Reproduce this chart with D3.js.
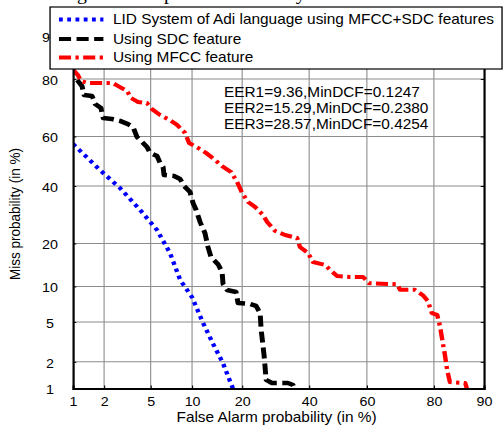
<!DOCTYPE html>
<html>
<head>
<meta charset="utf-8">
<script src="https://cdn.jsdelivr.net/npm/d3@7"></script>
<style>
  html, body { margin: 0; padding: 0; background: #fff; overflow: hidden; }
  svg { display: block; }
  text { font-family: Arial, "Liberation Sans", Helvetica, sans-serif; fill: #000; }
</style>
</head>
<body>
<svg id="chart"></svg>
<script>
// DET curves (probit-scaled axes), values in percent
const xTicks = [1, 2, 5, 10, 20, 40, 60, 80, 90];
const yTicks = [1, 2, 5, 10, 20, 40, 60, 80, 90];

const mfccSdcFA   = [1.0, 1.83, 2.78, 4.11, 5.6, 7.0, 8.3, 10.0, 11.8, 13.6, 15.6, 17.8];
const mfccSdcMiss = [57.0, 46.4, 39.2, 30.9, 24.1, 17.4, 11.2, 8.2, 4.9, 3.1, 1.95, 1.0];

const sdcFA   = [1.10, 1.23, 1.29, 1.54, 1.65, 1.87, 1.96, 2.36, 2.78, 3.26, 3.60, 3.88, 4.27, 4.68, 4.94,
                 5.61, 5.91, 6.23, 6.33, 7.50, 8.28, 8.82, 9.70, 10.16, 10.64, 11.29, 12.14, 12.68, 13.25, 14.6,
                 15.43, 15.64, 16.49, 18.53, 19.0, 22.0, 23.6, 24.7, 25.0, 25.8, 26.4, 28.1, 33.0, 34.65, 35.0];
const sdcMiss = [79.7, 77.9, 75.1, 74.8, 72.1, 70.7, 67.1, 66.7, 66.0, 64.8, 63.7, 59.8, 57.8, 55.8, 53.4,
                 52.1, 49.3, 47.6, 44.4, 44.0, 42.8, 40.0, 37.6, 33.4, 30.9, 26.7, 23.1, 19.0, 16.3, 14.6,
                 12.84, 10.44, 9.38, 9.04, 7.33, 7.19, 6.92, 6.01, 4.20, 2.37, 1.26, 1.16, 1.16, 1.10, 1.0];

const mfccFA   = [1.0, 1.12, 1.20, 1.41, 2.41, 2.78, 3.20, 3.46, 3.96, 4.68, 5.12, 5.91, 7.01, 7.88, 8.96,
                  9.55, 10.96, 12.32, 14.01, 15.43, 17.4, 18.77, 20.0, 21.5, 23.3, 25.5, 26.7, 29.0, 32.1, 36.0,
                  36.9, 39.6, 41.3, 45.5, 47.2, 49.7, 54.2, 58.7, 60.7, 69.8, 70.7, 75.0, 77.2, 78.5, 79.5,
                  80.8, 81.5, 82.0, 82.6, 83.1, 83.7, 86.8, 87.1];
const mfccMiss = [82.5, 81.1, 79.4, 78.8, 78.8, 77.6, 76.4, 74.1, 72.8, 72.4, 70.3, 68.2, 66.3, 64.5, 61.4,
                  57.4, 55.4, 53.4, 50.5, 48.0, 45.6, 41.6, 37.2, 33.8, 32.0, 29.1, 26.7, 23.8, 22.5, 21.6,
                  19.0, 17.4, 15.1, 14.4, 13.3, 12.0, 11.8, 11.8, 10.6, 10.4, 9.4, 9.4, 8.5, 7.6, 6.0,
                  5.8, 4.5, 3.36, 2.37, 1.63, 1.19, 1.16, 1.0];

const seriesNames = [
  "LID System of Adi language using MFCC+SDC features",
  "Using SDC feature",
  "Using MFCC feature"
];
const annotations = [
  "EER1=9.36,MinDCF=0.1247",
  "EER2=15.29,MinDCF=0.2380",
  "EER3=28.57,MinDCF=0.4254"
];
const titleText = "Showing the DET plot of the LID system";

// ---- inverse normal CDF (Acklam) ----
function probit(p) {
  const a = [-3.969683028665376e+01, 2.209460984245205e+02, -2.759285104469687e+02, 1.383577518672690e+02, -3.066479806614716e+01, 2.506628277459239e+00];
  const b = [-5.447609879822406e+01, 1.615858368580409e+02, -1.556989798598866e+02, 6.680131188771972e+01, -1.328068155288572e+01];
  const c = [-7.784894002430293e-03, -3.223964580411365e-01, -2.400758277161838e+00, -2.549732539343734e+00, 4.374664141464968e+00, 2.938163982698783e+00];
  const d = [7.784695709041462e-03, 3.224671290700398e-01, 2.445134137142996e+00, 3.754408661907416e+00];
  const plow = 0.02425, phigh = 1 - plow;
  let q, r;
  if (p < plow) {
    q = Math.sqrt(-2 * Math.log(p));
    return (((((c[0]*q+c[1])*q+c[2])*q+c[3])*q+c[4])*q+c[5]) / ((((d[0]*q+d[1])*q+d[2])*q+d[3])*q+1);
  } else if (p <= phigh) {
    q = p - 0.5; r = q*q;
    return (((((a[0]*r+a[1])*r+a[2])*r+a[3])*r+a[4])*r+a[5])*q / (((((b[0]*r+b[1])*r+b[2])*r+b[3])*r+b[4])*r+1);
  } else {
    q = Math.sqrt(-2 * Math.log(1 - p));
    return -(((((c[0]*q+c[1])*q+c[2])*q+c[3])*q+c[4])*q+c[5]) / ((((d[0]*q+d[1])*q+d[2])*q+d[3])*q+1);
  }
}

// A percent -> probit -> pixel scale usable by d3.axis
function probitScale(domain, range) {
  const lin = d3.scaleLinear().domain(domain.map(v => probit(v / 100))).range(range);
  const s = v => lin(probit(v / 100));
  s.domain = () => domain.slice();
  s.range = () => lin.range();
  s.copy = () => probitScale(domain, range);
  return s;
}

// The drawing is laid out in a narrower frame and stretched to the page width
const stretch = 1.1;
const pageW = 503, pageH = 428;
const W = pageW / stretch, H = pageH;

const svg = d3.select("#chart")
  .attr("width", pageW).attr("height", pageH)
  .attr("viewBox", `0 0 ${W} ${H}`)
  .attr("preserveAspectRatio", "none");

const plot = { left: 66.4, right: 440, top: 36, bottom: 388.5 };
const x = probitScale([1, 90], [plot.left, plot.right]);
const y = probitScale([1, 90], [plot.bottom, plot.top]);

// title line (only its lower part falls inside the page)
const title = svg.append("text")
  .attr("y", -0.5)
  .style("font-family", "'Liberation Serif', 'Times New Roman', serif")
  .style("font-size", "18px")
  .text(titleText);
{
  const node = title.node();
  const gi = titleText.indexOf("g");
  const off = node.getSubStringLength(0, gi);
  title.attr("x", 70 - off);
}

// grid
const gridColor = "#8c8c8c";
const innerX = xTicks.filter(v => v !== 1 && v !== 90);
const innerY = yTicks.filter(v => v !== 1 && v !== 90);
svg.append("g").selectAll("line").data(innerX).join("line")
  .attr("x1", d => x(d)).attr("x2", d => x(d))
  .attr("y1", plot.top).attr("y2", plot.bottom)
  .attr("stroke", gridColor).attr("stroke-width", 1);
svg.append("g").selectAll("line").data(innerY).join("line")
  .attr("x1", plot.left).attr("x2", plot.right)
  .attr("y1", d => y(d)).attr("y2", d => y(d))
  .attr("stroke", gridColor).attr("stroke-width", 1);

// curves
svg.append("clipPath").attr("id", "plotClip").append("rect")
  .attr("x", plot.left).attr("y", plot.top)
  .attr("width", plot.right - plot.left).attr("height", plot.bottom - plot.top);

const line = d3.line().x(d => x(d[0])).y(d => y(d[1]));
const styles = [
  { color: "#0000ff", dash: "3.5,4",      width: 4 },
  { color: "#000000", dash: "11,5",       width: 4.5 },
  { color: "#ff0000", dash: "11,4,3,4",   width: 4 }
];
const series = [
  d3.zip(mfccSdcFA, mfccSdcMiss),
  d3.zip(sdcFA, sdcMiss),
  d3.zip(mfccFA, mfccMiss)
];
const curves = svg.append("g").attr("clip-path", "url(#plotClip)");
series.forEach((pts, i) => {
  curves.append("path")
    .attr("d", line(pts))
    .attr("fill", "none")
    .attr("stroke", styles[i].color)
    .attr("stroke-width", styles[i].width)
    .attr("stroke-dasharray", styles[i].dash)
    .attr("stroke-linejoin", "round");
});

// axes with inward tick marks
const xAxis = svg.append("g")
  .attr("transform", `translate(0,${plot.bottom})`)
  .call(d3.axisBottom(x).tickValues(xTicks).tickFormat(d3.format("d")).tickSize(-3).tickPadding(0));
xAxis.select(".domain").attr("stroke", "#000").attr("stroke-width", 2);
xAxis.selectAll(".tick line").attr("stroke", "#000");
xAxis.selectAll("text")
  .attr("y", 17.5).attr("dy", null)
  .style("font-size", "13px").style("font-family", "Arial, 'Liberation Sans', sans-serif");

const yAxis = svg.append("g")
  .attr("transform", `translate(${plot.left},0)`)
  .call(d3.axisLeft(y).tickValues(yTicks).tickFormat(d3.format("d")).tickSize(-3).tickPadding(0));
yAxis.select(".domain").attr("stroke", "#000").attr("stroke-width", 2);
yAxis.selectAll(".tick line").attr("stroke", "#000");
yAxis.selectAll("text")
  .attr("x", -21).attr("dy", "0.4em")
  .attr("text-anchor", "middle")
  .style("font-size", "13px").style("font-family", "Arial, 'Liberation Sans', sans-serif");

const rAxis = svg.append("g")
  .attr("transform", `translate(${plot.right},0)`)
  .call(d3.axisRight(y).tickValues(yTicks).tickFormat("").tickSize(-3));
rAxis.select(".domain").attr("stroke", "#000").attr("stroke-width", 2);
rAxis.selectAll(".tick line").attr("stroke", "#000");

svg.append("line")
  .attr("x1", plot.left).attr("x2", plot.right)
  .attr("y1", plot.top).attr("y2", plot.top)
  .attr("stroke", "#000").attr("stroke-width", 1.5);

// axis titles
svg.append("text")
  .attr("x", 251.4).attr("y", 422)
  .attr("text-anchor", "middle")
  .style("font-size", "14px")
  .text("False Alarm probability (in %)");
svg.append("text")
  .attr("transform", `translate(18.2,214) rotate(-90)`)
  .attr("text-anchor", "middle")
  .style("font-size", "13.5px")
  .text("Miss probability (in %)");

// EER / MinDCF notes
svg.append("g").selectAll("text").data(annotations).join("text")
  .attr("x", 203.6)
  .attr("y", (d, i) => 97 + i * 16)
  .style("font-size", "14px")
  .text(d => d);

// legend
const lg = svg.append("g");
lg.append("rect")
  .attr("x", 45.5).attr("y", 7)
  .attr("width", 456.4 - 45.5).attr("height", 62)
  .attr("fill", "#fff").attr("stroke", "#000").attr("stroke-width", 1.2);
const legendY = [19.5, 39, 57.5];
seriesNames.forEach((name, i) => {
  lg.append("line")
    .attr("x1", 53.6).attr("x2", 94)
    .attr("y1", legendY[i]).attr("y2", legendY[i])
    .attr("stroke", styles[i].color)
    .attr("stroke-width", 4)
    .attr("stroke-dasharray", styles[i].dash);
  lg.append("text")
    .attr("x", 102.7).attr("y", legendY[i] + 5)
    .style("font-size", "14px")
    .text(name);
});
</script>
</body>
</html>
